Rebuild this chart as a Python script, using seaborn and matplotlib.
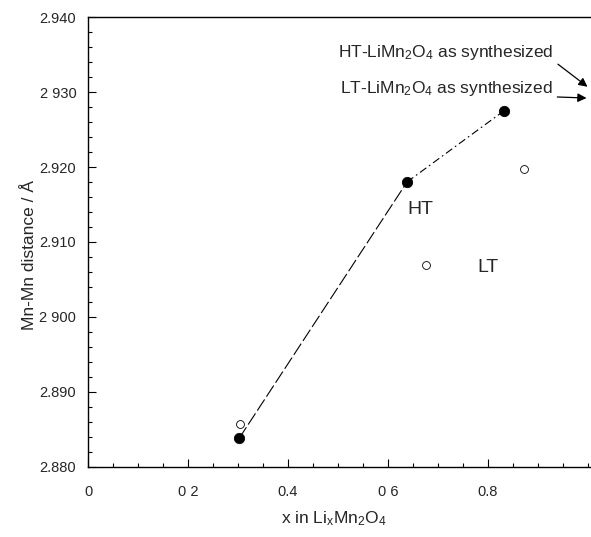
import matplotlib
matplotlib.use('Agg')
import matplotlib.pyplot as plt
import seaborn as sns
import pandas as pd
from matplotlib.ticker import MultipleLocator, FixedLocator

sns.set_style('ticks')
plt.rcParams['font.family'] = ['Liberation Sans', 'DejaVu Sans']
plt.rcParams['mathtext.fontset'] = 'custom'
plt.rcParams['mathtext.rm'] = 'Liberation Sans'
plt.rcParams['mathtext.it'] = 'Liberation Sans:italic'

# HT (filled) and LT (open) Mn-Mn distances
ht_x = [0.302, 0.638, 0.832]
ht_y = [2.8838, 2.9180, 2.9275]
lt_x = [0.304, 0.676, 0.872]
lt_y = [2.8857, 2.9069, 2.9197]
# as-synthesized samples (x = 1, just off the right edge)
synth_x = [0.999, 0.997]
synth_y = [2.9307, 2.9292]
synth_labels = ['HT-LiMn$_2$O$_4$ as synthesized', 'LT-LiMn$_2$O$_4$ as synthesized']

xticks = [0, 0.2, 0.4, 0.6, 0.8]
xtick_labels = ['0', '0 2', '0.4', '0 6', '0.8']
yticks = [2.880, 2.890, 2.900, 2.910, 2.920, 2.930, 2.940]
ytick_labels = ['2.880', '2.890', '2 900', '2.910', '2.920', '2 930', '2.940']

ht = pd.DataFrame({'x': ht_x, 'y': ht_y})
lt = pd.DataFrame({'x': lt_x, 'y': lt_y})

fig = plt.figure(figsize=(5.91, 5.37), dpi=100)
ax = fig.add_axes([0.149, 0.1304, 0.851, 0.8379])

sns.lineplot(data=ht.iloc[0:2], x='x', y='y', ax=ax, color='black', lw=0.8,
             linestyle=(0, (12, 3)), sort=False)
sns.lineplot(data=ht.iloc[1:3], x='x', y='y', ax=ax, color='black', lw=0.8,
             linestyle=(0, (7, 3, 1.5, 3)), sort=False)
sns.scatterplot(data=lt, x='x', y='y', ax=ax, s=32, facecolor='white',
                edgecolor='black', linewidth=0.6, zorder=3)
sns.scatterplot(data=ht, x='x', y='y', ax=ax, s=55, color='black',
                edgecolor='black', zorder=4)

ax.text(0.638, 2.9143, 'HT', fontsize=14, ha='left', va='center')
ax.text(0.778, 2.9066, 'LT', fontsize=14, ha='left', va='center')

text_pos = [(0.5, 2.9353), (0.504, 2.9305)]
for lab, tx, ty, px, py in zip(synth_labels, [p[0] for p in text_pos],
                               [p[1] for p in text_pos], synth_x, synth_y):
    ax.annotate(lab, xy=(px, py), xytext=(tx, ty),
                fontsize=12.5, ha='left', va='center',
                arrowprops=dict(arrowstyle='-|>', color='black', lw=0.9,
                                shrinkA=1, shrinkB=0, mutation_scale=13,
                                relpos=(1.0, 0.05)))

ax.set_xlim(0, 1.006)
ax.set_ylim(2.880, 2.940)
ax.xaxis.set_major_locator(FixedLocator(xticks))
ax.set_xticklabels(xtick_labels)
ax.yaxis.set_major_locator(FixedLocator(yticks))
ax.set_yticklabels(ytick_labels)
ax.xaxis.set_minor_locator(MultipleLocator(0.05))
ax.yaxis.set_minor_locator(MultipleLocator(0.002))
ax.tick_params(which='both', direction='in', color='black', width=0.8,
               labelsize=10.5, top=False, right=False)
ax.tick_params(which='major', length=6)
ax.tick_params(which='minor', length=3)
ax.tick_params(axis='x', which='major', pad=13)
ax.tick_params(axis='y', which='major', pad=8.5)

ax.set_xlabel('x in Li$_{\\mathrm{x}}$Mn$_2$O$_4$', fontsize=12.5)
ax.set_ylabel('Mn-Mn distance / Å', fontsize=12.5)
ax.xaxis.set_label_coords(0.489, -0.095)
ax.yaxis.set_label_coords(-0.102, 0.47)

ax.spines['right'].set_visible(False)
for s in ['left', 'bottom', 'top']:
    ax.spines[s].set_color('black')
    ax.spines[s].set_linewidth(1.0)

fig.savefig('out.png', dpi=100)
